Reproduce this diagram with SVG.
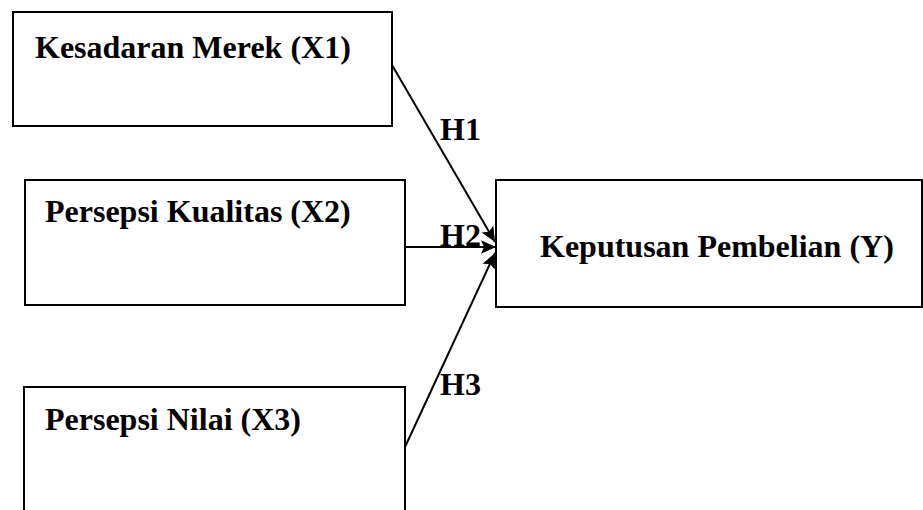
<svg xmlns="http://www.w3.org/2000/svg" width="923" height="510" viewBox="0 0 923 510">
<style>
.box{fill:#fff;stroke:#000;stroke-width:2}
.t{font-family:"Liberation Serif","Times New Roman",serif;font-weight:bold;font-size:32px;fill:#000}
.c{stroke:#000;stroke-width:2;fill:none}
</style>
<defs>
<marker id="ah" viewBox="0 0 10 10" refX="10" refY="5" markerWidth="15" markerHeight="15" markerUnits="userSpaceOnUse" orient="auto">
<path d="M0,0.5 L10,5 L0,9.5 L2,5 Z" fill="#000"/>
</marker>
</defs>
<rect width="923" height="510" fill="#fff"/>
<g id="x1"><rect class="box" x="13" y="12" width="379" height="114"/><text class="t" x="35" y="58">Kesadaran Merek (X1)</text></g>
<g id="x2"><rect class="box" x="25" y="180" width="380" height="125"/><text class="t" x="45" y="222">Persepsi Kualitas (X2)</text></g>
<g id="x3"><rect class="box" x="24" y="387" width="381" height="130"/><text class="t" x="45" y="430">Persepsi Nilai (X3)</text></g>
<g id="y"><rect class="box" x="496" y="180" width="426" height="127"/><text class="t" x="540" y="257">Keputusan Pembelian (Y)</text></g>
<g id="connectors">
<line class="c" x1="392" y1="65" x2="495" y2="242" marker-end="url(#ah)"/>
<line class="c" x1="405" y1="247" x2="496" y2="247" marker-end="url(#ah)"/>
<line class="c" x1="405" y1="447" x2="495" y2="253" marker-end="url(#ah)"/>
<text class="t" x="440" y="140">H1</text>
<text class="t" x="440" y="246">H2</text>
<text class="t" x="440" y="395">H3</text>
</g>
</svg>
